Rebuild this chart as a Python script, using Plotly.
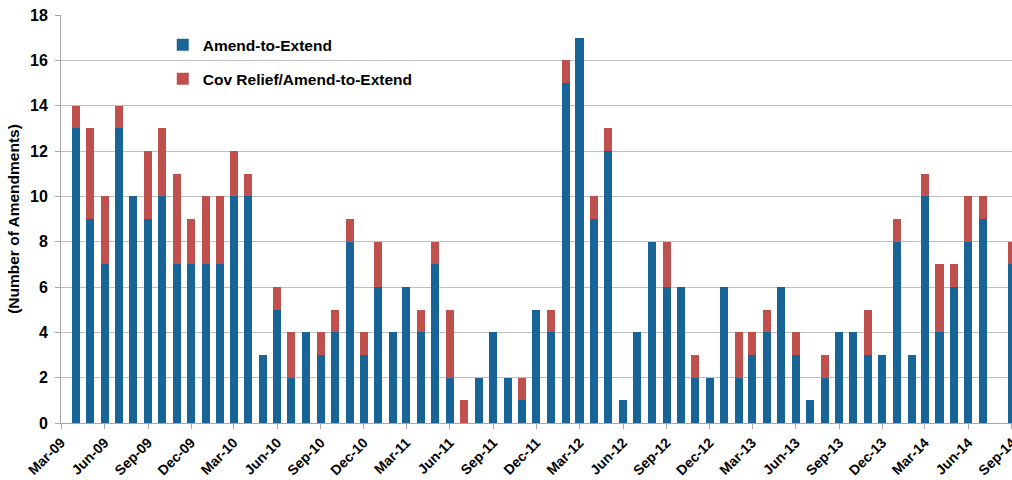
import pandas as pd
import plotly.graph_objects as go

# Monthly amendment counts, Apr-2009 through Sep-2014
months = pd.date_range("2009-04-01", "2014-09-01", freq="MS")

amend_to_extend = [
    13, 9, 7, 13, 10, 9, 10, 7, 7,                 # 2009 Apr-Dec
    7, 7, 10, 10, 3, 5, 2, 4, 3, 4, 8, 3,          # 2010
    6, 4, 6, 4, 7, 2, 0, 2, 4, 2, 1, 5,            # 2011
    4, 15, 17, 9, 12, 1, 4, 8, 6, 6, 2, 2,         # 2012
    6, 2, 3, 4, 6, 3, 1, 2, 4, 4, 3, 3,            # 2013
    8, 3, 10, 4, 6, 8, 9, 0, 7,                    # 2014 Jan-Sep
]

cov_relief = [
    1, 4, 3, 1, 0, 3, 3, 4, 2,
    3, 3, 2, 1, 0, 1, 2, 0, 1, 1, 1, 1,
    2, 0, 0, 1, 1, 3, 1, 0, 0, 0, 1, 0,
    1, 1, 0, 1, 1, 0, 0, 0, 2, 0, 1, 0,
    0, 2, 1, 1, 0, 1, 0, 1, 0, 0, 2, 0,
    1, 0, 1, 3, 1, 2, 1, 0, 1,
]

BLUE = "#186497"
RED = "#C0504D"
FONT = "Liberation Sans, Arial, sans-serif"
DAY_MS = 86400000
bar_width = 17 * DAY_MS

fig = go.Figure()
fig.add_trace(go.Bar(
    x=months, y=amend_to_extend, name="Amend-to-Extend",
    marker=dict(color=BLUE, line=dict(width=0)), width=bar_width,
    legendgroup="a",
))
fig.add_trace(go.Bar(
    x=months, y=cov_relief, name="Cov Relief/Amend-to-Extend",
    marker=dict(color=RED, line=dict(width=0)), width=bar_width,
    legendgroup="b",
))

fig.update_layout(
    width=1012, height=480,
    barmode="stack",
    plot_bgcolor="white", paper_bgcolor="white",
    margin=dict(l=61, r=0, t=15, b=57),
    font=dict(family=FONT, color="#000000"),
    showlegend=True,
    legend=dict(
        x=0.107, y=0.968, xanchor="left", yanchor="top",
        bgcolor="rgba(255,255,255,0)",
        font=dict(size=15.5, family=FONT, color="#000000", weight="bold"),
        traceorder="grouped", tracegroupgap=11,
    ),
)

fig.update_xaxes(
    type="date",
    range=["2009-03-01", "2014-09-01 06:00"],
    tick0="2009-03-01", dtick="M3", tickformat="%b-%y",
    tickangle=-45,
    tickfont=dict(size=14, family=FONT, color="#000000", weight="bold"),
    ticks="outside", ticklen=5, tickcolor="#A6A6A6",
    ticklabeloverflow="allow",
    automargin=False,
    showline=True, linecolor="#A6A6A6", linewidth=1,
    showgrid=False, zeroline=False,
)

fig.update_yaxes(
    range=[0, 18], dtick=2, tick0=0,
    tickfont=dict(size=16, family=FONT, color="#000000", weight="bold"),
    ticks="outside", ticklen=5, tickcolor="#A6A6A6",
    ticklabelstandoff=4,
    automargin=False,
    showline=True, linecolor="#A6A6A6", linewidth=1,
    showgrid=True, gridcolor="#BFBFBF", gridwidth=1,
    zeroline=False,
    title=dict(text="(Number of Amendments)", standoff=6,
               font=dict(size=15.5, family=FONT, color="#000000", weight="bold")),
)

fig.write_html("out.html")
